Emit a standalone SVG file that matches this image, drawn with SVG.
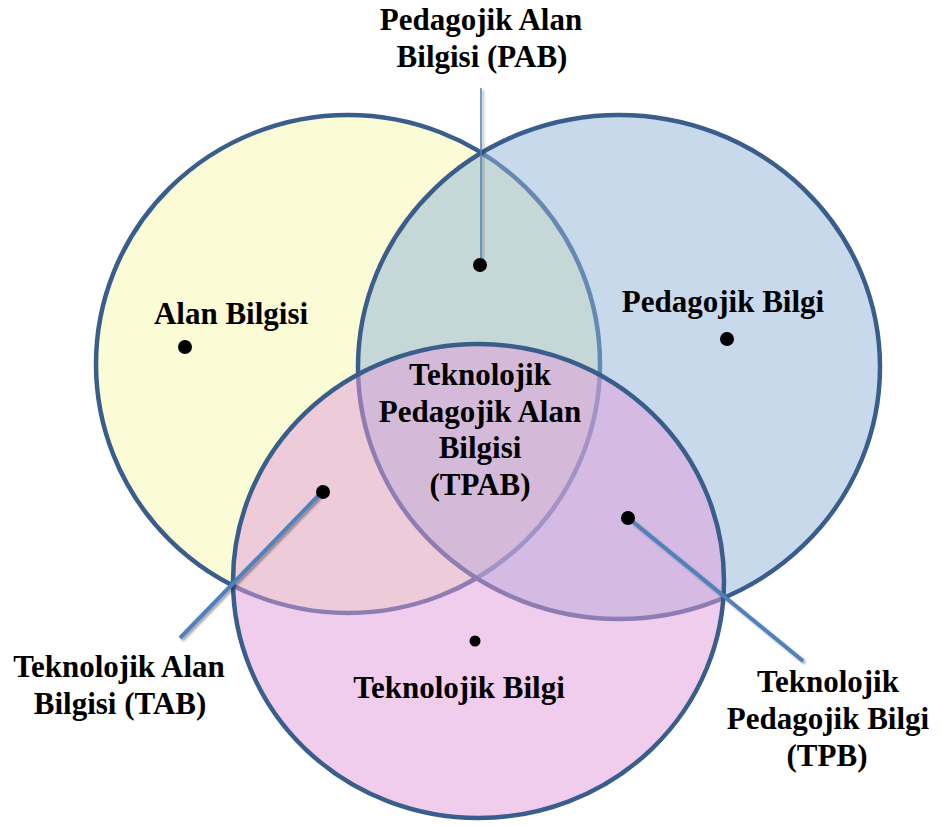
<svg xmlns="http://www.w3.org/2000/svg" width="941" height="826" viewBox="0 0 941 826">
<defs>
<style>
.c{stroke:#395E8C;stroke-width:4.5}
.t{font-family:"Liberation Serif","Times New Roman",serif;font-weight:bold;font-size:31px;fill:#000;text-anchor:middle}
.d{fill:#000}
.ln{stroke:#4F81BD;stroke-width:4;stroke-linecap:butt;fill:none}
</style>
<filter id="sh" x="-20%" y="-20%" width="140%" height="140%">
<feGaussianBlur in="SourceAlpha" stdDeviation="1.2"/>
<feOffset dx="1.5" dy="1.5" result="b"/>
<feComponentTransfer><feFuncA type="linear" slope="0.35"/></feComponentTransfer>
<feMerge><feMergeNode/><feMergeNode in="SourceGraphic"/></feMerge>
</filter>
</defs>
<rect width="941" height="826" fill="#fff"/>
<g id="alan-bilgisi">
<ellipse class="c" cx="348" cy="364" rx="252" ry="249" fill="#FBFBD6"/>
</g>
<g id="pedagojik-bilgi">
<ellipse class="c" cx="619" cy="367" rx="261" ry="252" fill="#91B3DA" fill-opacity="0.5"/>
</g>
<g id="teknolojik-bilgi">
<ellipse class="c" cx="478.5" cy="581" rx="245.5" ry="237" fill="#E19BD9" fill-opacity="0.5"/>
</g>
<g id="connectors" filter="url(#sh)">
<line x1="481" y1="88" x2="481" y2="264" stroke="#4F81BD" stroke-width="1.5"/>
<line class="ln" x1="318" y1="496" x2="180" y2="638"/>
<line class="ln" x1="632" y1="521" x2="803" y2="661"/>
</g>
<g id="dots">
<circle class="d" cx="185" cy="347" r="7"/>
<circle class="d" cx="727" cy="339" r="7"/>
<circle class="d" cx="480" cy="265" r="7"/>
<circle class="d" cx="323" cy="492" r="7"/>
<circle class="d" cx="628" cy="518" r="7"/>
<circle class="d" cx="475" cy="641" r="5.5"/>
</g>
<g id="label-ab"><text class="t" x="231" y="324">Alan Bilgisi</text></g>
<g id="label-pb"><text class="t" x="723" y="312">Pedagojik Bilgi</text></g>
<g id="label-pab"><text class="t" x="481" y="30">Pedagojik Alan</text><text class="t" x="482" y="67">Bilgisi (PAB)</text></g>
<g id="label-tpab"><text class="t" x="480" y="385">Teknolojik</text><text class="t" x="480" y="422">Pedagojik Alan</text><text class="t" x="480" y="458">Bilgisi</text><text class="t" x="480" y="495">(TPAB)</text></g>
<g id="label-tab"><text class="t" x="119" y="677">Teknolojik Alan</text><text class="t" x="120" y="714">Bilgisi (TAB)</text></g>
<g id="label-tb"><text class="t" x="459" y="698">Teknolojik Bilgi</text></g>
<g id="label-tpb"><text class="t" x="828" y="692">Teknolojik</text><text class="t" x="828" y="729">Pedagojik Bilgi</text><text class="t" x="827" y="766">(TPB)</text></g>
</svg>
